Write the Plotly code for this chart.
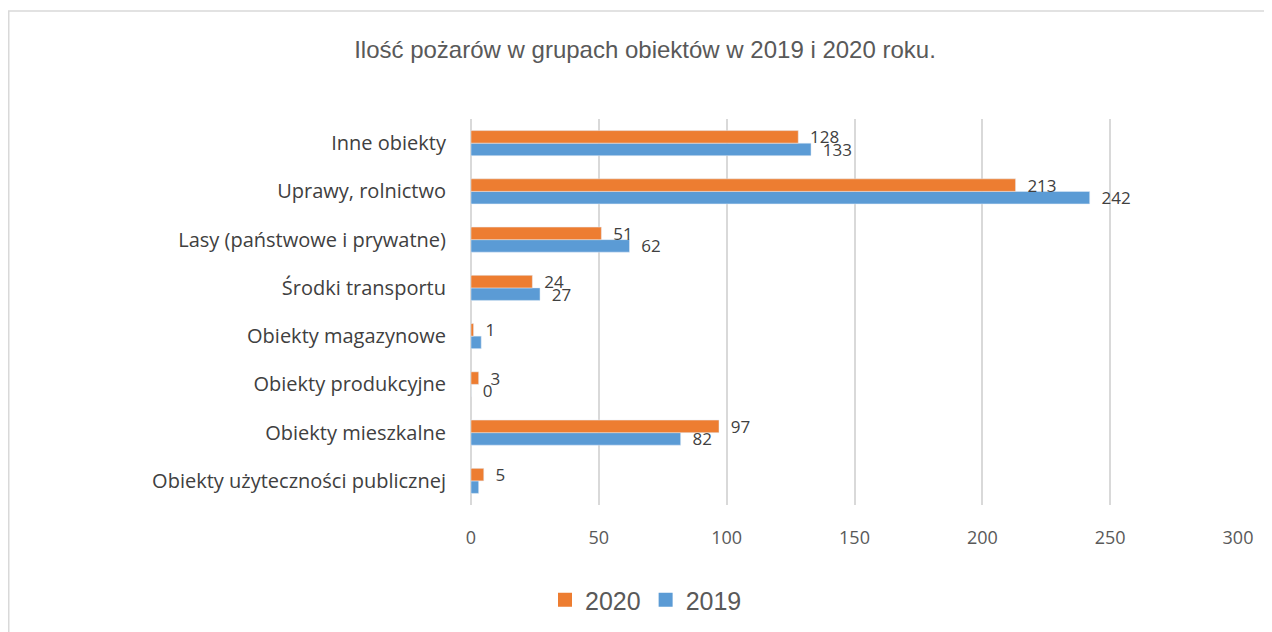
import plotly.graph_objects as go

categories = [
    "Obiekty użyteczności publicznej",
    "Obiekty mieszkalne",
    "Obiekty produkcyjne",
    "Obiekty magazynowe",
    "Środki transportu",
    "Lasy (państwowe i prywatne)",
    "Uprawy, rolnictwo",
    "Inne obiekty",
]
values_2020 = [5, 97, 3, 1, 24, 51, 213, 128]
values_2019 = [3, 82, 0, 4, 27, 62, 242, 133]
labels_2020 = ["5", "97", "3", "1", "24", "51", "213", "128"]
labels_2019 = ["", "82", "0", "", "27", "62", "242", "133"]

W, H = 1272, 632
OX, OY = 8, 8  # page body offset
L, R, T, B = 471 - OX, 1238 - OX, 119 - OY, 505 - OY
pw = R - L
ph = B - T

LBL_FONT = dict(size=17, color="#404040", family="Open Sans")

fig = go.Figure()
fig.add_trace(go.Bar(
    y=categories, x=values_2019, name="2019", orientation="h",
    marker=dict(color="#5B9BD5"),
    text=["  " + t if t else "" for t in labels_2019], textposition="outside",
    textfont=LBL_FONT, constraintext="none", cliponaxis=False, showlegend=False,
))
fig.add_trace(go.Bar(
    y=categories, x=values_2020, name="2020", orientation="h",
    marker=dict(color="#ED7D31"),
    text=["  " + t if t else "" for t in labels_2020], textposition="outside",
    textfont=LBL_FONT, constraintext="none", cliponaxis=False, showlegend=False,
))
# legend entries (square swatches like the reference)
fig.add_trace(go.Scatter(x=[None], y=[None], mode="markers", name="2020",
                         marker=dict(symbol="square", size=14, color="#ED7D31")))
fig.add_trace(go.Scatter(x=[None], y=[None], mode="markers", name="2019",
                         marker=dict(symbol="square", size=14, color="#5B9BD5")))

fig.update_layout(
    width=W, height=H,
    margin=dict(l=L, r=W - R, t=T, b=H - B, autoexpand=False),
    paper_bgcolor="white", plot_bgcolor="white",
    barmode="group", bargap=0.48, bargroupgap=0,
    font=dict(family="Open Sans", color="#595959"),
    title=dict(
        text="Ilość pożarów w grupach obiektów w 2019 i 2020 roku.",
        x=(645 - OX) / W, xref="container", xanchor="center",
        y=1 - (50 - OY) / H, yref="container", yanchor="middle",
        font=dict(size=24, color="#595959", family="Liberation Sans"),
    ),
    xaxis=dict(
        range=[0, 300], dtick=50, showgrid=True, gridcolor="#D9D9D9", gridwidth=1.5,
        zeroline=True, zerolinecolor="#D9D9D9", zerolinewidth=1.5,
        tickfont=dict(size=18, color="#595959", family="Open Sans"), ticks="",
        ticklabelstandoff=20, fixedrange=True,
    ),
    yaxis=dict(
        categoryorder="array", categoryarray=categories,
        tickfont=dict(size=20, color="#404040", family="Open Sans"), ticks="",
        ticklabelstandoff=24, showgrid=False, fixedrange=True,
    ),
    legend=dict(
        orientation="h",
        x=(646 - OX - L) / pw, xanchor="center", y=(B - (600 - OY)) / ph, yanchor="middle",
        font=dict(size=25, color="#595959", family="Liberation Sans"), itemwidth=30,
    ),
    showlegend=True,
    shapes=[dict(
        type="rect", xref="paper", yref="paper",
        x0=(0.75 - L) / pw, x1=(1259 - L) / pw,
        y0=(B - 650) / ph, y1=(B - (11 - OY)) / ph,
        line=dict(color="#D9D9D9", width=1.5), fillcolor="rgba(0,0,0,0)", layer="below",
    )],
)

fig.write_html("out.html")
